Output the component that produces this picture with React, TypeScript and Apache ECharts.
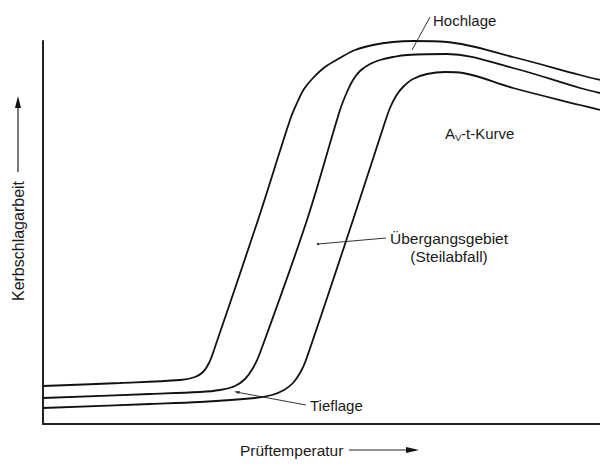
import React, { useEffect, useRef } from "react";
import * as echarts from "echarts";

// Three Av-t curves (arbitrary units: temperature 0..557, energy 0..383)
const curveA = [[0,38],[77,41],[137,44],[152,47],[160,52],[166,61],[171,74],[215,204],[247,304],[254,321],[261,335],[270,346],[282,357],[297,366],[312,374],[330,379],[350,382],[370,383],[404,382],[470,367],[537,349],[557,344]];
const curveB = [[0,26],[107,30],[157,32],[177,34],[192,38],[202,45],[210,56],[217,71],[264,204],[297,314],[304,332],[310,344],[317,353],[327,360],[337,364],[350,367],[364,369],[404,370],[470,356],[537,336],[557,331]];
const curveC = [[0,16],[107,20],[157,22],[212,26],[229,29],[241,34],[250,41],[257,51],[263,64],[310,204],[342,302],[347,316],[353,328],[360,337],[370,345],[384,350],[402,352],[420,351],[470,336],[537,319],[557,314]];

const xLabel = "Prüftemperatur";
const yLabel = "Kerbschlagarbeit";
const labelHoch = "Hochlage";
const labelTief = "Tieflage";
const labelUeber1 = "Übergangsgebiet";
const labelUeber2 = "(Steilabfall)";

const FONT = "'Liberation Sans', Arial, Helvetica, sans-serif";
const INK = "#1a1a1a";

export default function App() {
  const ref = useRef<HTMLDivElement>(null);
  useEffect(() => {
    document.body.style.margin = "0";
    const chart = echarts.init(ref.current!, null, { renderer: "svg" });
    const lineSeries = (data: number[][]) => ({
      type: "line",
      data,
      smooth: 0.35,
      showSymbol: false,
      clip: false,
      lineStyle: { color: "#111", width: 1.8 },
    });
    const txt = (text: string, x: number, y: number, size = 15, align = "left", extra: any = {}) => ({
      type: "text",
      x,
      y,
      ...extra,
      style: {
        text,
        fill: INK,
        fontFamily: FONT,
        fontSize: size,
        textAlign: align,
        textVerticalAlign: "middle",
      },
    });
    const ln = (x1: number, y1: number, x2: number, y2: number, w = 1, c = "#333") => ({
      type: "line",
      shape: { x1, y1, x2, y2 },
      style: { stroke: c, lineWidth: w },
    });
    chart.setOption({
      animation: false,
      grid: { left: 43, right: 0, top: 41, bottom: 40 },
      xAxis: {
        type: "value",
        min: 0,
        max: 557,
        axisLine: { show: true, lineStyle: { color: "#222", width: 2 } },
        axisTick: { show: false },
        axisLabel: { show: false },
        splitLine: { show: false },
      },
      yAxis: {
        type: "value",
        min: 0,
        max: 383,
        axisLine: { show: true, lineStyle: { color: "#222", width: 2 } },
        axisTick: { show: false },
        axisLabel: { show: false },
        splitLine: { show: false },
      },
      series: [lineSeries(curveA), lineSeries(curveB), lineSeries(curveC)],
      graphic: [
        // y-axis label with arrow
        txt(yLabel, 18, 241, 16, "center", { rotation: Math.PI / 2 }),
        ln(18, 172, 18, 106, 1.2, "#222"),
        { type: "polygon", shape: { points: [[18, 96], [15, 108], [21, 108]] }, style: { fill: "#111" } },
        // x-axis label with arrow
        txt(xLabel, 240, 450, 15.5, "left"),
        ln(349, 450, 408, 450, 1.2, "#222"),
        { type: "polygon", shape: { points: [[419, 450], [406, 447], [406, 453]] }, style: { fill: "#111" } },
        // Hochlage
        txt(labelHoch, 433, 20, 15, "left"),
        ln(412, 50, 430, 17),
        // Av-t-Kurve
        txt("A", 445, 133, 15, "left"),
        txt("V", 455, 137, 9.5, "left"),
        txt("-t-Kurve", 461, 133, 15, "left"),
        // Übergangsgebiet
        txt(labelUeber1, 449, 238, 15.5, "center"),
        txt(labelUeber2, 449, 256, 15.5, "center"),
        ln(318, 244, 386, 238),
        { type: "circle", shape: { cx: 318, cy: 244, r: 1.2 }, style: { fill: "#333" } },
        // Tieflage
        txt(labelTief, 310, 405, 15, "left"),
        ln(236, 392, 306, 405),
        { type: "polygon", shape: { points: [[234, 391.5], [240, 391], [239, 394]] }, style: { fill: "#333" } },
      ],
    });
    return () => chart.dispose();
  }, []);
  return <div ref={ref} style={{ width: 600, height: 464 }} />;
}
